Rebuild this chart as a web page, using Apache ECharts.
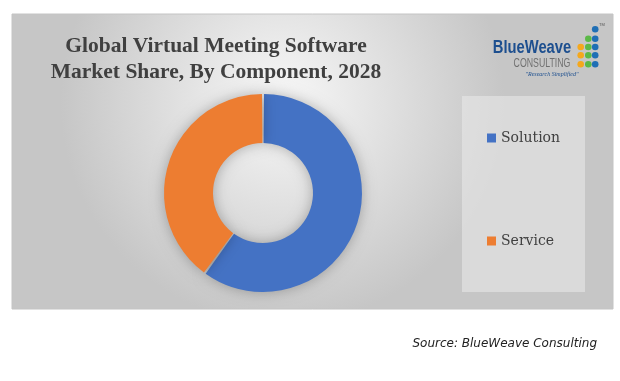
<!DOCTYPE html>
<html>
<head>
<meta charset="utf-8">
<script src="https://cdn.jsdelivr.net/npm/echarts@6/dist/echarts.min.js"></script>
<style>html,body{margin:0;padding:0;background:#fff;}#c{width:620px;height:381px;}</style>
</head>
<body>
<div id="c"></div>
<script>
var categories = ['Solution', 'Service'];
var shares = [60, 40];
var colors = ['#4472C4', '#ED7D31'];
var titleLines = ['Global Virtual Meeting Software', 'Market Share, By Component, 2028'];
var sourceText = 'Source: BlueWeave Consulting';

var chart = echarts.init(document.getElementById('c'), null, {renderer: 'canvas'});

var dots = [];
var dotCols = [580.7, 588.3, 595.2];
var dotRows = [29.3, 38.7, 47, 55.3, 64.3];
var dotColors = ['#F5A81C', '#5BB947', '#1F6FB5'];
for (var r = 0; r < dotRows.length; r++) {
  for (var c = 0; c < 3; c++) {
    if (r === 0 && c < 2) continue;
    if (r === 1 && c < 1) continue;
    dots.push({type: 'circle', z: 5, shape: {cx: dotCols[c], cy: dotRows[r], r: 3.3}, style: {fill: dotColors[c]}});
  }
}

var option = {
  animation: false,
  backgroundColor: '#ffffff',
  color: colors,
  title: {
    text: titleLines.join('\n'),
    left: 211,
    top: 28,
    textAlign: 'center',
    textStyle: {fontFamily: 'Liberation Serif', fontWeight: 'bold', fontSize: 21.5, lineHeight: 26, color: '#404040'}
  },
  legend: {
    orient: 'vertical',
    left: 487,
    top: 130,
    padding: 0,
    itemWidth: 9,
    itemHeight: 9,
    itemGap: 87,
    icon: 'rect',
    data: categories,
    textStyle: {fontFamily: 'DejaVu Serif', fontSize: 14, lineHeight: 16, color: '#404040', padding: [0, 0, 0, 0]}
  },
  graphic: [
    {type: 'rect', z: -10, shape: {x: 12, y: 14, width: 601, height: 295},
      style: {stroke: '#c4c4c4', lineWidth: 1, fill: {type: 'radial', x: 0.45, y: 0.3, r: 0.75,
        colorStops: [{offset: 0, color: '#f8f8f8'}, {offset: 1, color: '#c6c6c6'}]}}},
    {type: 'rect', z: -9, shape: {x: 462, y: 96, width: 123, height: 196},
      style: {fill: 'rgba(232,232,232,0.6)'}},
    {type: 'text', z: 5, x: 532, y: 48, scaleX: 0.82,
      style: {text: 'BlueWeave', fontFamily: 'Liberation Sans', fontWeight: 'bold', fontSize: 18, fill: '#1D4F8F', align: 'center', verticalAlign: 'middle'}},
    {type: 'text', z: 5, x: 542, y: 64, scaleX: 0.73,
      style: {text: 'CONSULTING', fontFamily: 'Liberation Sans', fontSize: 12, fill: '#707070', align: 'center', verticalAlign: 'middle'}},
    {type: 'text', z: 5, x: 552, y: 74, style: {text: '"Research Simplified"', fontFamily: 'Liberation Serif', fontStyle: 'italic', fontSize: 6, fill: '#1D4F8F', align: 'center', verticalAlign: 'middle'}},
    {type: 'text', z: 5, x: 599, y: 25, style: {text: 'TM', fontFamily: 'Liberation Sans', fontSize: 4, fill: '#555', align: 'left', verticalAlign: 'middle'}},
    {type: 'text', z: 5, x: 597, y: 344, style: {text: sourceText, fontFamily: 'DejaVu Sans', fontStyle: 'italic', fontSize: 12, fill: '#222', align: 'right', verticalAlign: 'middle'}}
  ].concat(dots),
  series: [{
    type: 'pie',
    center: [263, 193],
    radius: [50, 99],
    startAngle: 90,
    clockwise: true,
    padAngle: 1.2,
    label: {show: false},
    labelLine: {show: false},
    emphasis: {disabled: true},
    itemStyle: {shadowBlur: 14, shadowColor: 'rgba(0,0,0,0.28)'},
    data: categories.map(function (name, i) { return {name: name, value: shares[i]}; })
  }]
};
chart.setOption(option);
</script>
</body>
</html>
